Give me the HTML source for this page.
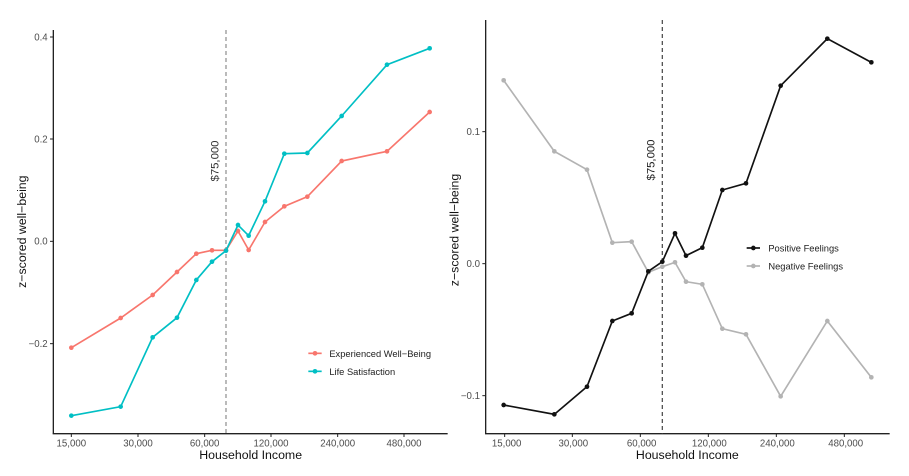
<!DOCTYPE html>
<html><head><meta charset="utf-8"><style>
html,body{margin:0;padding:0;background:#fff;}
svg{display:block;font-family:"Liberation Sans",sans-serif;}
</style></head><body>
<svg width="909" height="476" viewBox="0 0 909 476" xmlns="http://www.w3.org/2000/svg">
<rect width="909" height="476" fill="#fff"/>
<g transform="scale(0.33333)">
  <line x1="160" y1="90" x2="160" y2="1301" stroke="#222" stroke-width="4"/>
  <line x1="158" y1="1301" x2="1343" y2="1301" stroke="#222" stroke-width="4"/>
  <g stroke="#222" stroke-width="3">
    <line x1="150" y1="111" x2="160" y2="111"/><line x1="150" y1="417" x2="160" y2="417"/>
    <line x1="150" y1="724" x2="160" y2="724"/><line x1="150" y1="1031" x2="160" y2="1031"/>
    <line x1="214" y1="1301" x2="214" y2="1311"/><line x1="414" y1="1301" x2="414" y2="1311"/>
    <line x1="614" y1="1301" x2="614" y2="1311"/><line x1="813" y1="1301" x2="813" y2="1311"/>
    <line x1="1013" y1="1301" x2="1013" y2="1311"/><line x1="1212" y1="1301" x2="1212" y2="1311"/>
  </g>
  <g fill="#4d4d4d" font-size="29" text-anchor="end">
    <text x="143" y="121">0.4</text><text x="143" y="427">0.2</text>
    <text x="143" y="734">0.0</text><text x="143" y="1041">−0.2</text>
  </g>
  <g fill="#4d4d4d" font-size="29" text-anchor="middle">
    <text x="214" y="1340">15,000</text><text x="414" y="1340">30,000</text>
    <text x="614" y="1340">60,000</text><text x="813" y="1340">120,000</text>
    <text x="1013" y="1340">240,000</text><text x="1212" y="1340">480,000</text>
  </g>
  <text x="752" y="1377" font-size="37" text-anchor="middle" fill="#111">Household Income</text>
  <text transform="translate(78,695) rotate(-90)" font-size="37" text-anchor="middle" fill="#111">z−scored well−being</text>
  <line x1="678" y1="90" x2="678" y2="1300" stroke="#999" stroke-width="4" stroke-dasharray="12,9"/>
  <text transform="translate(655,483) rotate(-90)" font-size="34" text-anchor="middle" fill="#333">$75,000</text>
  <polyline fill="none" stroke="#F8766D" stroke-width="5" points="214,1043 362,954 458,885 531,816 589,761 636,751 678,751 714,693 746,750 795,666 853,619 922,590 1025,483 1161,454 1289,336"/>
  <g fill="#F8766D">
    <circle cx="214" cy="1043" r="7"/><circle cx="362" cy="954" r="7"/><circle cx="458" cy="885" r="7"/><circle cx="531" cy="816" r="7"/><circle cx="589" cy="761" r="7"/><circle cx="636" cy="751" r="7"/><circle cx="678" cy="751" r="7"/><circle cx="714" cy="693" r="7"/><circle cx="746" cy="750" r="7"/><circle cx="795" cy="666" r="7"/><circle cx="853" cy="619" r="7"/><circle cx="922" cy="590" r="7"/><circle cx="1025" cy="483" r="7"/><circle cx="1161" cy="454" r="7"/><circle cx="1289" cy="336" r="7"/>
  </g>
  <polyline fill="none" stroke="#00BFC4" stroke-width="5" points="214,1247 362,1220 458,1012 531,953 589,840 636,785 678,752 714,675 746,707 795,604 853,461 922,459 1025,348 1161,194 1289,145"/>
  <g fill="#00BFC4">
    <circle cx="214" cy="1247" r="7"/><circle cx="362" cy="1220" r="7"/><circle cx="458" cy="1012" r="7"/><circle cx="531" cy="953" r="7"/><circle cx="589" cy="840" r="7"/><circle cx="636" cy="785" r="7"/><circle cx="678" cy="752" r="7"/><circle cx="714" cy="675" r="7"/><circle cx="746" cy="707" r="7"/><circle cx="795" cy="604" r="7"/><circle cx="853" cy="461" r="7"/><circle cx="922" cy="459" r="7"/><circle cx="1025" cy="348" r="7"/><circle cx="1161" cy="194" r="7"/><circle cx="1289" cy="145" r="7"/>
  </g>
  <line x1="925" y1="1060" x2="965" y2="1060" stroke="#F8766D" stroke-width="5"/><circle cx="945" cy="1060" r="7" fill="#F8766D"/>
  <line x1="925" y1="1114" x2="965" y2="1114" stroke="#00BFC4" stroke-width="5"/><circle cx="945" cy="1114" r="7" fill="#00BFC4"/>
  <text x="988" y="1071" font-size="28" fill="#222">Experienced Well−Being</text>
  <text x="988" y="1125" font-size="28" fill="#222">Life Satisfaction</text>
</g>
<g transform="translate(450,0) scale(0.33333)">
  <line x1="107" y1="60" x2="107" y2="1301" stroke="#222" stroke-width="4"/>
  <line x1="105" y1="1301" x2="1319" y2="1301" stroke="#222" stroke-width="4"/>
  <g stroke="#222" stroke-width="3">
    <line x1="97" y1="395" x2="107" y2="395"/><line x1="97" y1="791" x2="107" y2="791"/><line x1="97" y1="1187" x2="107" y2="1187"/>
    <line x1="164" y1="1301" x2="164" y2="1311"/><line x1="367" y1="1301" x2="367" y2="1311"/>
    <line x1="571" y1="1301" x2="571" y2="1311"/><line x1="775" y1="1301" x2="775" y2="1311"/>
    <line x1="979" y1="1301" x2="979" y2="1311"/><line x1="1183" y1="1301" x2="1183" y2="1311"/>
  </g>
  <g fill="#4d4d4d" font-size="29" text-anchor="end">
    <text x="90" y="405">0.1</text><text x="90" y="801">0.0</text><text x="90" y="1197">−0.1</text>
  </g>
  <g fill="#4d4d4d" font-size="29" text-anchor="middle">
    <text x="170" y="1340">15,000</text><text x="370" y="1340">30,000</text>
    <text x="575" y="1340">60,000</text><text x="778" y="1340">120,000</text>
    <text x="982" y="1340">240,000</text><text x="1187" y="1340">480,000</text>
  </g>
  <text x="712" y="1377" font-size="37" text-anchor="middle" fill="#111">Household Income</text>
  <text transform="translate(25,690) rotate(-90)" font-size="37" text-anchor="middle" fill="#111">z−scored well−being</text>
  <line x1="637" y1="60" x2="637" y2="1300" stroke="#555" stroke-width="4" stroke-dasharray="12,9"/>
  <text transform="translate(614,480) rotate(-90)" font-size="34" text-anchor="middle" fill="#222">$75,000</text>
  <polyline fill="none" stroke="#b3b3b3" stroke-width="5" points="161,241 313,454 411,509 487,728 545,725 595,817 637,800 675,787 708,845 757,853 817,986 888,1003 992,1189 1132,963 1264,1132"/>
  <g fill="#b3b3b3">
    <circle cx="161" cy="241" r="7"/><circle cx="313" cy="454" r="7"/><circle cx="411" cy="509" r="7"/><circle cx="487" cy="728" r="7"/><circle cx="545" cy="725" r="7"/><circle cx="595" cy="817" r="7"/><circle cx="637" cy="800" r="7"/><circle cx="675" cy="787" r="7"/><circle cx="708" cy="845" r="7"/><circle cx="757" cy="853" r="7"/><circle cx="817" cy="986" r="7"/><circle cx="888" cy="1003" r="7"/><circle cx="992" cy="1189" r="7"/><circle cx="1132" cy="963" r="7"/><circle cx="1264" cy="1132" r="7"/>
  </g>
  <polyline fill="none" stroke="#111" stroke-width="5" points="161,1215 313,1243 411,1160 487,963 545,940 595,814 637,785 675,700 708,767 757,743 817,570 888,550 992,257 1132,116 1264,187"/>
  <g fill="#111">
    <circle cx="161" cy="1215" r="7"/><circle cx="313" cy="1243" r="7"/><circle cx="411" cy="1160" r="7"/><circle cx="487" cy="963" r="7"/><circle cx="545" cy="940" r="7"/><circle cx="595" cy="814" r="7"/><circle cx="637" cy="785" r="7"/><circle cx="675" cy="700" r="7"/><circle cx="708" cy="767" r="7"/><circle cx="757" cy="743" r="7"/><circle cx="817" cy="570" r="7"/><circle cx="888" cy="550" r="7"/><circle cx="992" cy="257" r="7"/><circle cx="1132" cy="116" r="7"/><circle cx="1264" cy="187" r="7"/>
  </g>
  <line x1="890" y1="744" x2="930" y2="744" stroke="#111" stroke-width="5"/><circle cx="910" cy="744" r="7" fill="#111"/>
  <line x1="890" y1="798" x2="930" y2="798" stroke="#b3b3b3" stroke-width="5"/><circle cx="910" cy="798" r="7" fill="#b3b3b3"/>
  <text x="955" y="755" font-size="28" fill="#222">Positive Feelings</text>
  <text x="955" y="809" font-size="28" fill="#222">Negative Feelings</text>
</g>
</svg>
</body></html>
